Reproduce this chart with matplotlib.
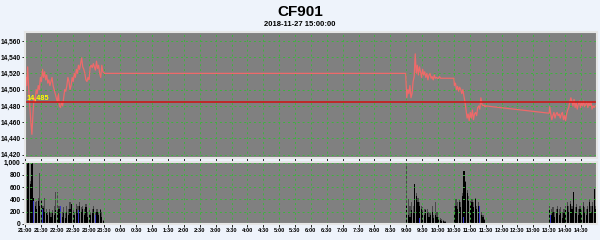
import numpy as np
import matplotlib.pyplot as plt
from matplotlib.ticker import FuncFormatter

plt.rcParams['font.family'] = ['Liberation Sans', 'DejaVu Sans']
plt.rcParams['font.weight'] = 'bold'

# -------------------------------------------------
# Datos (minutos desde las 21:00)
# -------------------------------------------------
precio_t = [0, 2, 3, 5, 7, 9, 11, 13, 15, 17, 19, 21, 23, 25, 27, 29, 31, 33, 35, 37,
            39, 41, 43, 45, 47, 49, 51, 53, 55, 57, 59, 61, 63, 65, 67, 69, 71, 73, 75, 77,
            79, 81, 83, 85, 87, 89, 91, 93, 95, 97, 99, 101, 103, 105, 107, 109, 111, 113, 115, 117,
            119, 121, 123, 125, 127, 129, 131, 133, 135, 137, 139, 141, 143, 145, 147, 150,
            719, 720, 721, 723, 725, 727, 729, 731, 733, 735, 737, 739, 741, 743, 745, 747, 749,
            751, 753, 755, 757, 759, 761, 763, 765, 767, 769, 771, 773, 775, 777, 779, 781,
            783, 785, 790, 795, 810, 811, 813, 815, 817, 819, 821, 823, 825, 827, 829, 831,
            833, 835, 837, 839, 841, 843, 845, 847, 849, 851, 853, 855, 857, 859, 861, 863,
            865, 867, 869, 870, 990, 991, 993, 995, 997, 999, 1001, 1003, 1005, 1007, 1009, 1011,
            1013, 1015, 1017, 1019, 1021, 1023, 1025, 1027, 1029, 1031, 1033, 1035, 1037, 1039,
            1041, 1043, 1045, 1047, 1049, 1051, 1053, 1055, 1057, 1059, 1061, 1063, 1065, 1067,
            1069, 1071, 1073, 1075, 1077]
precio = [14470, 14515, 14505, 14528, 14500, 14480, 14460, 14445, 14470, 14490, 14485, 14500,
          14495, 14505, 14500, 14515, 14510, 14525, 14515, 14522, 14512, 14518, 14508, 14512,
          14505, 14510, 14515, 14505, 14500, 14495, 14490, 14485, 14495, 14480, 14478, 14485,
          14480, 14490, 14500, 14498, 14505, 14515, 14510, 14500, 14505, 14515, 14510, 14520,
          14515, 14525, 14520, 14530, 14525, 14532, 14539, 14528, 14525, 14520, 14512, 14510,
          14515, 14512, 14528, 14530, 14527, 14532, 14528, 14524, 14535, 14526, 14530, 14520,
          14515, 14530, 14522, 14520,
          14520, 14505, 14490, 14500, 14495, 14505, 14490, 14495, 14510, 14516, 14544, 14520, 14530,
          14518, 14528, 14522, 14515, 14525, 14518, 14522, 14515, 14520, 14512, 14518, 14520,
          14514, 14516, 14512, 14518, 14514, 14515, 14514, 14514, 14516, 14514, 14514, 14514,
          14514, 14505, 14508, 14500, 14504, 14498, 14503, 14500, 14495, 14500, 14492, 14485,
          14475, 14465, 14470, 14462, 14472, 14465, 14475, 14463, 14470, 14472, 14468, 14478,
          14480, 14476, 14490, 14482, 14480, 14481, 14479, 14480,
          14471, 14479, 14470, 14463, 14468, 14472, 14465, 14470, 14472, 14468, 14470, 14465,
          14470, 14472, 14463, 14468, 14462, 14470, 14475, 14478, 14485, 14490, 14485, 14480,
          14488, 14478, 14484, 14476, 14482, 14486, 14478, 14484, 14480, 14486, 14479, 14482,
          14485, 14478, 14484, 14480, 14485, 14476, 14480, 14478, 14480]
precio_ref = 14485

# Volumen en barras de 3 minutos
vol_t = ([0 + 3 * i for i in range(50)] + [720 + 3 * i for i in range(25)]
         + [810 + 3 * i for i in range(20)] + [990 + 3 * i for i in range(30)])
vol_negro = [1000, 1000, 1000, 650, 1000, 420, 300, 250, 380, 300, 380, 260, 200, 180, 150,
             200, 120, 180, 150, 220, 200, 250, 150, 120, 180, 100, 200, 150, 250, 330,
             200, 150, 250, 180, 300, 200, 250, 150, 280, 120, 200, 150, 180, 250, 120,
             200, 150, 230, 120, 40,
             300, 150, 120, 220, 180, 650, 450, 350, 300, 250, 200, 150, 220, 180, 120,
             150, 200, 100, 150, 120, 80, 60, 50, 40, 30,
             200, 300, 250, 350, 280, 450, 860, 690, 500, 380, 300, 350, 280, 400, 250,
             300, 180, 150, 120, 60,
             250, 150, 200, 120, 180, 250, 150, 200, 100, 180, 250, 300, 200, 330, 250,
             520, 200, 280, 150, 250, 180, 300, 200, 150, 250, 350, 200, 300, 570, 250]
vol_gris = [470, 1000, 1000, 700, 900, 420, 350, 380, 420, 830, 400, 300, 420, 250, 200,
            250, 200, 230, 300, 520, 520, 300, 250, 200, 280, 200, 300, 250, 350, 300,
            250, 200, 330, 300, 350, 280, 300, 250, 330, 200, 250, 200, 250, 300, 200,
            250, 200, 250, 200, 60,
            1050, 400, 300, 350, 300, 650, 500, 420, 350, 300, 280, 250, 250, 250, 200,
            200, 300, 150, 350, 200, 120, 100, 80, 60, 40,
            300, 400, 350, 400, 350, 500, 860, 700, 550, 450, 380, 400, 350, 420, 300,
            350, 250, 200, 150, 80,
            300, 250, 280, 200, 250, 300, 250, 280, 200, 250, 300, 350, 300, 380, 300,
            520, 280, 330, 250, 300, 250, 350, 280, 250, 300, 400, 300, 350, 570, 300]
azul_t = [16, 33, 66, 100, 132, 745, 828, 858, 992, 1008, 1023, 1044, 1059]
azul_v = [380, 250, 300, 220, 150, 100, 120, 300, 150, 200, 230, 180, 200]

horas = ['21:00', '21:30', '22:00', '22:30', '23:00', '23:30'] + \
        [f'{h // 2}:{"30" if h % 2 else "00"}' for h in range(0, 30)]

# -------------------------------------------------
# Figura
# -------------------------------------------------
fig = plt.figure(figsize=(6, 2.4), dpi=100, facecolor='#eef3fb')
ax1 = fig.add_axes([0.0417, 0.342, 0.953, 0.525])
ax2 = fig.add_axes([0.0417, 0.067, 0.953, 0.258], sharex=ax1)

fondo = '#808080'
verde = '#3cb43c'
for ax in (ax1, ax2):
    ax.set_facecolor(fondo)
    for s in ax.spines.values():
        s.set_color('#e6e6e6')
        s.set_linewidth(1.5)
    ax.grid(True, color=verde, linestyle=(0, (2, 3)), linewidth=0.7)
    ax.tick_params(length=2, width=0.6, labelsize=4.8, pad=1, colors='black')

ax1.plot(precio_t, precio, color='#ee6a6a', linewidth=0.9)
ax1.axhline(precio_ref, color='#d01010', linewidth=1.1)
ax1.text(2, precio_ref, f'{precio_ref:,}', color='#ffff00', fontsize=5.2,
         fontweight='bold', va='bottom', ha='left')
ax1.set_ylim(14416, 14571)
ax1.set_yticks(np.arange(14420, 14561, 20))
ax1.yaxis.set_major_formatter(FuncFormatter(lambda v, p: f'{int(v):,}'))
ax1.tick_params(labelbottom=False)

ax2.bar(vol_t, vol_gris, width=2.2, align='edge', color='#4a4a4a', linewidth=0)
ax2.bar(vol_t, vol_negro, width=2.2, align='edge', color='black', linewidth=0)
ax2.bar(azul_t, azul_v, width=1.2, align='edge', color='#3838c8', linewidth=0)
ax2.set_ylim(0, 1010)
ax2.set_yticks(np.arange(0, 1001, 200))
ax2.yaxis.set_major_formatter(FuncFormatter(lambda v, p: f'{int(v):,}'))

ax2.set_xlim(0, 1080)
ax2.set_xticks(np.arange(0, 1080, 30))
ax2.set_xticklabels(horas[:36], fontsize=4.1)

fig.text(0.5, 0.95, 'CF901', ha='center', va='center', fontsize=11, fontweight='bold')
fig.text(0.5, 0.9, '2018-11-27 15:00:00', ha='center', va='center', fontsize=5.5,
         fontweight='bold')

fig.savefig('out.png', dpi=100, facecolor=fig.get_facecolor())
